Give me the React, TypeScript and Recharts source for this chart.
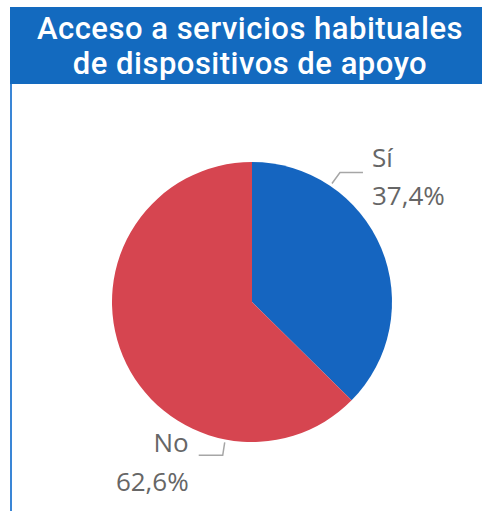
import { PieChart, Pie, Cell } from 'recharts';

const categories = ['Sí', 'No'];
const shares = [37.4, 62.6];
const colors = ['#1565C0', '#D64550'];
const titleLines = ['Acceso a servicios habituales', 'de dispositivos de apoyo'];

const data = categories.map((name, i) => ({ name, value: shares[i] }));

const fmt = (v: number) => v.toFixed(1).replace('.', ',') + '%';

const renderLabel = (props: any) => {
  const { cx, cy, outerRadius, index, name, value } = props;
  const r = outerRadius + 3;
  const textStyle = { fontFamily: '"Open Sans", sans-serif', fontSize: 26, fill: '#666666' };
  if (index === 0) {
    const a = (56 * Math.PI) / 180;
    const px = cx + r * Math.cos(a);
    const py = cy - r * Math.sin(a);
    const ex = px + 8;
    const ey = py - 11;
    const hx = ex + 23;
    return (
      <g>
        <polyline points={`${px},${py} ${ex},${ey} ${hx},${ey}`} fill="none" stroke="#a6a6a6" strokeWidth={1.5} />
        <text x={hx + 9} y={ey - 5} style={textStyle}>{name}</text>
        <text x={hx + 9} y={ey + 33} style={textStyle}>{fmt(value)}</text>
      </g>
    );
  }
  const a = (259 * Math.PI) / 180;
  const px = cx + r * Math.cos(a);
  const py = cy - r * Math.sin(a);
  const ex = px - 2;
  const ey = py + 13;
  const hx = ex - 24;
  return (
    <g>
      <polyline points={`${px},${py} ${ex},${ey} ${hx},${ey}`} fill="none" stroke="#a6a6a6" strokeWidth={1.5} />
      <text x={hx - 10} y={ey - 3} textAnchor="end" style={textStyle}>{name}</text>
      <text x={hx - 10} y={ey + 36} textAnchor="end" style={textStyle}>{fmt(value)}</text>
    </g>
  );
};

export default function App() {
  return (
    <div style={{ position: 'absolute', left: 0, top: 0, width: 482, height: 511, background: '#fff', overflow: 'hidden' }}>
      <div
        style={{
          position: 'absolute',
          left: 10,
          top: 7,
          width: 472,
          height: 77,
          background: '#136ABF',
          color: '#fff',
          fontFamily: 'Roboto, sans-serif',
          fontWeight: 500,
          fontSize: 31,
          letterSpacing: 0.5,
          textAlign: 'center',
          paddingTop: 5,
          boxSizing: 'border-box',
          paddingLeft: 8,
          whiteSpace: 'nowrap',
        }}
      >
        {titleLines.map((t) => (
          <div key={t} style={{ height: 35, lineHeight: '33px' }}>
            {t}
          </div>
        ))}
      </div>
      <div style={{ position: 'absolute', left: 10, top: 84, width: 2, height: 427, background: '#3A86D6' }} />
      <div style={{ position: 'absolute', left: 0, top: 0 }}>
        <PieChart width={482} height={511} margin={{ top: 0, right: 0, bottom: 0, left: 0 }}>
          <Pie
            data={data}
            dataKey="value"
            nameKey="name"
            cx={252}
            cy={302}
            outerRadius={140}
            startAngle={90}
            endAngle={-270}
            stroke="none"
            label={renderLabel}
            labelLine={false}
            isAnimationActive={false}
          >
            {data.map((d, i) => (
              <Cell key={d.name} fill={colors[i]} />
            ))}
          </Pie>
        </PieChart>
      </div>
    </div>
  );
}
